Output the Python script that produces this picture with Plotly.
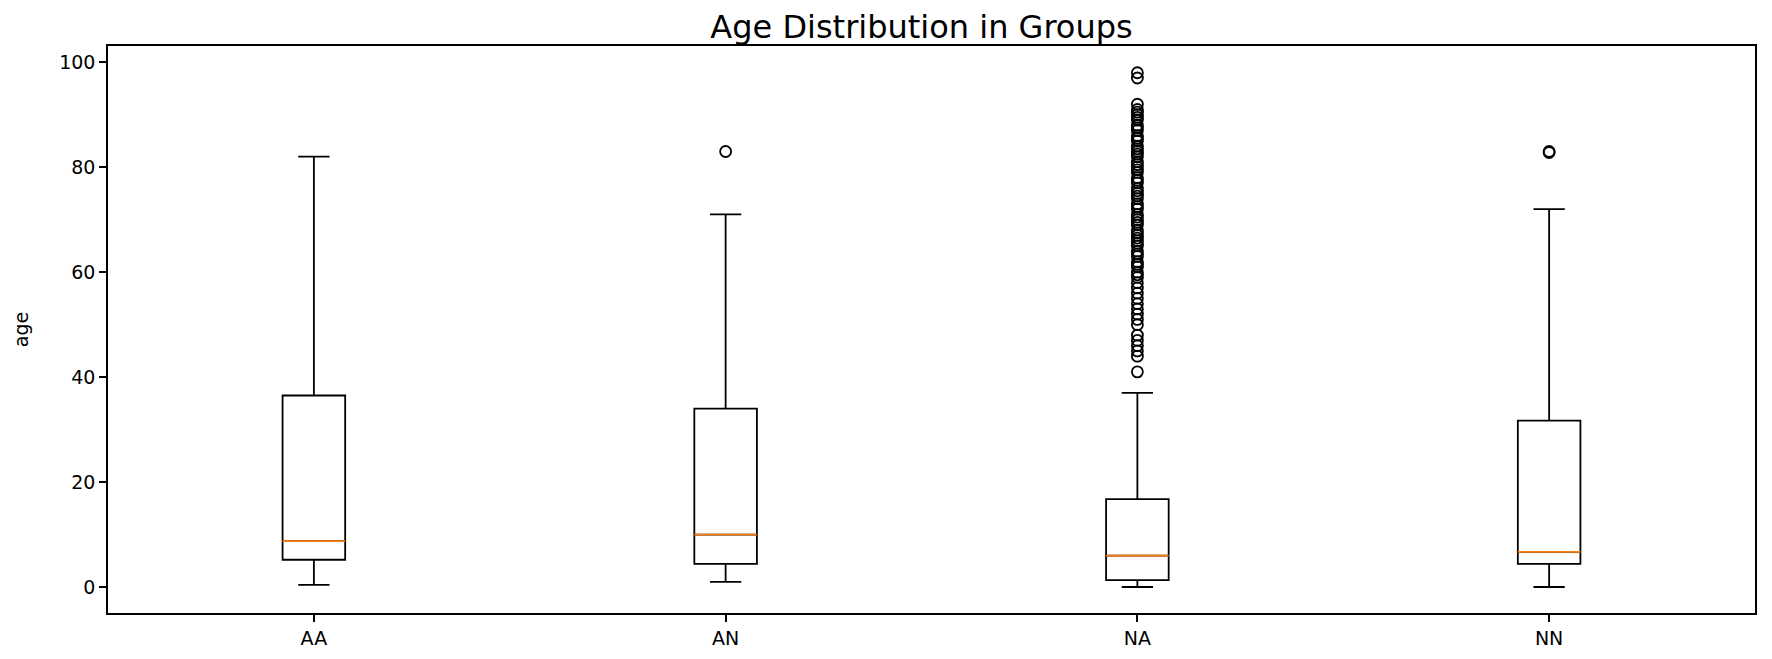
import plotly.graph_objects as go

categories = ["AA", "AN", "NA", "NN"]
q1 = [5.2, 4.4, 1.3, 4.4]
median = [8.75, 10.0, 6.0, 6.7]
q3 = [36.5, 34.0, 16.75, 31.7]
lower_whisker = [0.4, 1.0, 0.0, 0.0]
upper_whisker = [82.0, 71.0, 37.0, 72.0]

outliers_AA = []
outliers_AN = [83]
outliers_NA = [41, 44, 45, 46, 47, 48, 50, 51, 52, 53, 54, 55, 56, 57, 58, 59,
               60, 61, 62, 63, 64, 65, 66, 67, 68, 69, 70, 71, 72, 73, 74, 75,
               76, 77, 78, 79, 80, 81, 82, 83, 84, 85, 86, 87, 88, 89, 90, 91,
               92, 97, 98,
               59.5, 61.5, 63.5, 65.5, 66.5, 67.5, 69.5, 70.5, 72.5, 74.5, 75.5,
               77.5, 79.5, 80.5, 82.5, 83.5, 85.5, 87.5, 89.5, 90.5]
outliers_NN = [83, 82.8]
outliers = [outliers_AA, outliers_AN, outliers_NA, outliers_NN]

yticks = [0, 20, 40, 60, 80, 100]

FONT = "DejaVu Sans"
BOX_W = 0.152
LW = 1.8
W, H = 1772, 659
OFF = 8  # page body margin offset

fig = go.Figure()

for i, cat in enumerate(categories):
    fig.add_trace(go.Box(
        x=[cat], q1=[q1[i]], median=[median[i]], q3=[q3[i]],
        lowerfence=[lower_whisker[i]], upperfence=[upper_whisker[i]],
        boxpoints=False, width=BOX_W, whiskerwidth=0.5,
        line=dict(color="black", width=LW), fillcolor="rgba(255,255,255,0)",
        showlegend=False, hoverinfo="skip",
    ))
    # orange median line drawn as a degenerate box
    fig.add_trace(go.Box(
        x=[cat], q1=[median[i]], median=[median[i]], q3=[median[i]],
        lowerfence=[median[i]], upperfence=[median[i]],
        boxpoints=False, width=BOX_W, whiskerwidth=0,
        line=dict(color="#ff7f0e", width=LW), fillcolor="rgba(255,255,255,0)",
        showlegend=False, hoverinfo="skip",
    ))
    if outliers[i]:
        fig.add_trace(go.Scatter(
            x=[cat] * len(outliers[i]), y=outliers[i], mode="markers",
            marker=dict(symbol="circle-open", size=11, color="black",
                        line=dict(width=1.8, color="black")),
            showlegend=False, hoverinfo="skip",
        ))

fig.update_layout(
    width=W, height=H,
    margin=dict(l=88 - OFF, r=17 + OFF, t=46 - OFF, b=46 + OFF),
    paper_bgcolor="white", plot_bgcolor="white",
    boxmode="overlay",
    font=dict(family=FONT, size=19, color="black"),
    title=dict(text="Age Distribution in Groups",
               x=((88 + 1755) / 2 - OFF) / W,
               xanchor="center", xref="container", yref="container",
               y=1 - 19 / H, yanchor="middle",
               font=dict(family=FONT, size=32, color="black")),
)
fig.update_xaxes(
    type="category", categoryorder="array", categoryarray=categories,
    range=[-0.5, 3.5],
    showline=True, mirror=True, linecolor="black", linewidth=1.5,
    ticks="outside", ticklen=7, tickwidth=1.5, tickcolor="black",
    showgrid=False, zeroline=False,
    tickfont=dict(family=FONT, size=19, color="black"),
)
fig.update_yaxes(
    range=[-4.95, 103.1], tickvals=yticks, ticktext=[str(v) for v in yticks],
    showline=True, mirror=True, linecolor="black", linewidth=1.5,
    ticks="outside", ticklen=7, tickwidth=1.5, tickcolor="black",
    showgrid=False, zeroline=False,
    tickfont=dict(family=FONT, size=19, color="black"),
    title=dict(text="age", standoff=26, font=dict(family=FONT, size=19, color="black")),
)

fig.write_html("out.html")
